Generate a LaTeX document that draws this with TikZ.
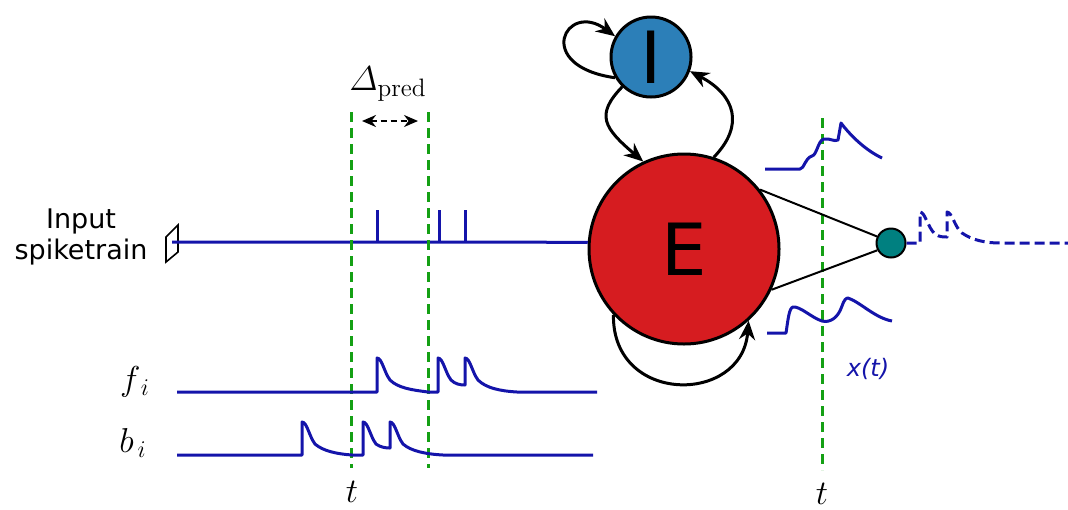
\documentclass[tikz,border=0pt]{standalone}
\usepackage{amsmath}
\usepackage{fontspec}
\setsansfont{DejaVu Sans}
\usetikzlibrary{arrows.meta}

\definecolor{spkblue}{RGB}{20,20,170}
\definecolor{markgreen}{RGB}{20,160,20}
\definecolor{excred}{RGB}{214,28,32}
\definecolor{inhblue}{RGB}{44,127,184}
\definecolor{outteal}{RGB}{0,128,128}

\begin{document}
\begin{tikzpicture}[x=0.5pt, y=-0.5pt,
  trace/.style={draw=spkblue, line width=1.5pt, line join=round},
  marker/.style={draw=markgreen, line width=1.5pt, dash pattern=on 5pt off 3pt},
  syn/.style={-{Stealth[length=9.5pt,width=8pt]}, line width=1.5pt},
  pop/.style={circle, draw, line width=1.5pt, inner sep=0pt, font=\sffamily\fontsize{36}{40}\selectfont},
  lbl/.style={font=\fontsize{18}{20}\selectfont}]
\useasboundingbox (0,0) rectangle (1068,509);

% populations
\node[pop, fill=excred, minimum size=95pt] (E) at (684,249) {E};
\node[pop, fill=inhblue, minimum size=40pt] (I) at (651,57) {I};
\node[circle, draw, line width=1pt, fill=outteal, minimum size=14.5pt, inner sep=0pt] (out) at (891,243) {};

% input spiketrain
\node[align=center, font=\sffamily\fontsize{13.5}{15.5}\selectfont] (lblin) at (81,237) {Input\\spiketrain};
\draw[line width=0.8pt] (166,237) -- (178,225) -- (178,252) -- (166,262) -- cycle;
\coordinate (in) at (172,242);
\draw[trace] (in) -- (E.176);
\foreach \x in {377,439,465}
  \draw[trace] (\x,242) -- (\x,210);

% prediction window
\draw[marker] (351,112) -- (351,468);
\draw[marker] (428,112) -- (428,468);
\draw[marker] (822,118) -- (822,470);
\node[lbl] (dlt) at (388,84) {$\varDelta_{\mathrm{pred}}$};
\draw[{Stealth[length=7pt,width=6pt]}-{Stealth[length=7pt,width=6pt]}, line width=1pt, dash pattern=on 3pt off 2pt] (362,121) -- (418,121);
\node[lbl] (t1) at (352,492) {$t$};
\node[lbl] (t2) at (822,494) {$t$};

% forward and backward traces
\node[lbl] (lblf) at (135,382) {$f_{\,i}$};
\node[lbl] (lblb) at (133,443) {$b_{\,i}$};
\draw[trace] (177,392) -- (377,392) -- (377,358)
  .. controls (382,358) and (384,372) .. (390,380)
  .. controls (398,388) and (412,390) .. (428,392)
  -- (438,392) -- (438,358)
  .. controls (443,358) and (445,372) .. (451,380)
  .. controls (455,384) and (460,385) .. (465,385)
  -- (465,358)
  .. controls (470,358) and (472,372) .. (478,380)
  .. controls (486,388) and (500,391) .. (517,392)
  -- (597,392);
\draw[trace] (177,455) -- (302,455) -- (302,422)
  .. controls (307,422) and (309,436) .. (315,444)
  .. controls (323,451) and (337,454) .. (352,455)
  -- (363,455) -- (363,422)
  .. controls (368,422) and (370,436) .. (376,444)
  .. controls (380,447) and (385,448) .. (390,448)
  -- (390,422)
  .. controls (395,422) and (397,436) .. (403,444)
  .. controls (411,451) and (425,454) .. (443,455)
  -- (593,455);

% recurrent connections
\draw[syn] (I.210) .. controls (532,66) and (566,0) .. (I.150);
\draw[syn] (I.226) .. controls (595,115) and (604,128) .. (E.115);
\draw[syn] (E.72) .. controls (745,125) and (735,95) .. (I.340);
\draw[syn] (E.223) .. controls (612,405) and (742,405) .. (E.312);

% readout
\draw[line width=1pt] (E.38) -- (out.155);
\draw[line width=1pt] (E.-25) -- (out.208);
\draw[trace] (765,169) -- (800,169)
  .. controls (804,169) and (805,158) .. (812,156)
  .. controls (817,155) and (818,140) .. (824,139)
  .. controls (830,138) and (834,142) .. (838,140)
  -- (841,123)
  .. controls (850,135) and (865,150) .. (882,158);
\draw[trace] (767,333) -- (786,333)
  .. controls (788,320) and (789,308) .. (793,307)
  .. controls (800,306) and (812,318) .. (822,321)
  .. controls (830,323) and (838,318) .. (842,306)
  .. controls (844,300) and (846,298) .. (848,298)
  .. controls (860,302) and (875,318) .. (892,321);
\node[text=spkblue, font=\sffamily\itshape\fontsize{12}{14}\selectfont] (lblx) at (868,369) {x(t)};
\draw[trace, dash pattern=on 5pt off 2.5pt] (out.east) -- (920,243) -- (920,212)
  .. controls (925,212) and (928,228) .. (935,234)
  .. controls (939,237) and (943,237) .. (947,237)
  -- (947,212)
  .. controls (952,212) and (955,228) .. (962,233)
  .. controls (972,240) and (985,243) .. (1000,243)
  -- (1068,243);
\end{tikzpicture}
\end{document}
